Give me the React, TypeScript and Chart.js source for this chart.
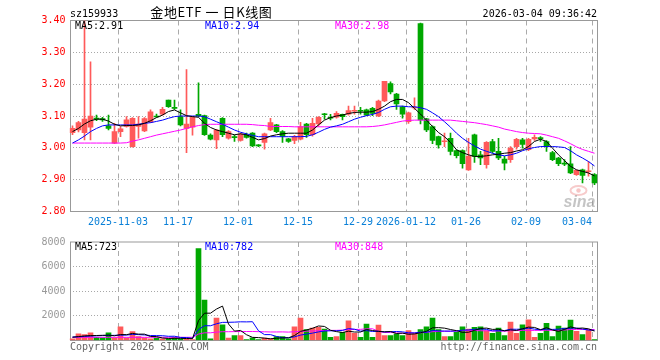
import React, { useEffect, useRef } from "react";
import { Chart, registerables } from "chart.js";

Chart.register(...registerables);

const stockCode = "sz159933";
const chartTitle = "金地ETF 一 日K线图";
const timestamp = "2026-03-04 09:36:42";
const priceLegend = ["MA5:2.91", "MA10:2.94", "MA30:2.98"];
const volumeLegend = ["MA5:723", "MA10:782", "MA30:848"];
const footerLeft = "Copyright 2026 SINA.COM";
const footerRight = "http://finance.sina.com.cn";

const dates = [
  "2025-10-22","2025-10-23","2025-10-24","2025-10-27","2025-10-28","2025-10-29","2025-10-30","2025-10-31",
  "2025-11-03","2025-11-04","2025-11-05","2025-11-06","2025-11-07",
  "2025-11-10","2025-11-11","2025-11-12","2025-11-13","2025-11-14",
  "2025-11-17","2025-11-18","2025-11-19","2025-11-20","2025-11-21",
  "2025-11-24","2025-11-25","2025-11-26","2025-11-27","2025-11-28",
  "2025-12-01","2025-12-02","2025-12-03","2025-12-04","2025-12-05",
  "2025-12-08","2025-12-09","2025-12-10","2025-12-11","2025-12-12",
  "2025-12-15","2025-12-16","2025-12-17","2025-12-18","2025-12-19",
  "2025-12-22","2025-12-23","2025-12-24","2025-12-25","2025-12-26",
  "2025-12-29","2025-12-30","2025-12-31",
  "2026-01-05","2026-01-06","2026-01-07","2026-01-08","2026-01-09",
  "2026-01-12","2026-01-13","2026-01-14","2026-01-15","2026-01-16",
  "2026-01-19","2026-01-20","2026-01-21","2026-01-22","2026-01-23",
  "2026-01-26","2026-01-27","2026-01-28","2026-01-29","2026-01-30",
  "2026-02-02","2026-02-03","2026-02-04","2026-02-05","2026-02-06",
  "2026-02-09","2026-02-10","2026-02-11","2026-02-12","2026-02-13",
  "2026-02-24","2026-02-25","2026-02-26","2026-02-27",
  "2026-03-02","2026-03-03","2026-03-04",
];

const tickDates = ["2025-11-03","2025-11-17","2025-12-01","2025-12-15","2025-12-29","2026-01-12","2026-01-26","2026-02-09","2026-03-04"];
const tickLabels = ["2025-11-03","11-17","12-01","12-15","12-29","2026-01-12","01-26","02-09","03-04"];

const open = [
  3.048,3.056,3.048,3.065,3.093,3.092,3.069,3.015,3.051,3.067,
  3.004,3.067,3.053,3.081,3.100,3.106,3.150,3.127,3.098,3.061,
  3.065,3.105,3.101,3.040,3.025,3.093,3.030,3.035,3.023,3.040,
  3.046,3.009,3.017,3.056,3.072,3.051,3.028,3.023,3.027,3.075,
  3.041,3.075,3.106,3.094,3.096,3.105,3.106,3.115,3.117,3.119,
  3.124,3.100,3.147,3.202,3.169,3.129,3.082,3.125,3.390,3.091,
  3.067,3.035,3.019,3.030,2.991,2.991,2.931,3.041,2.978,2.947,
  3.020,2.989,2.965,2.963,3.004,3.025,2.994,3.028,3.031,3.020,
  2.985,2.968,2.950,2.950,2.916,2.931,2.925,2.916,
];
const high = [
  3.069,3.083,3.400,3.270,3.103,3.096,3.103,3.077,3.067,3.098,
  3.095,3.098,3.095,3.119,3.106,3.127,3.150,3.150,3.119,3.246,
  3.098,3.204,3.103,3.044,3.058,3.095,3.054,3.040,3.046,3.046,
  3.048,3.010,3.046,3.093,3.074,3.054,3.030,3.039,3.080,3.077,
  3.093,3.098,3.108,3.105,3.114,3.106,3.131,3.131,3.127,3.122,
  3.127,3.150,3.209,3.207,3.171,3.131,3.112,3.157,3.392,3.093,
  3.069,3.037,3.046,3.046,2.994,2.994,3.030,3.043,2.989,3.020,
  3.027,3.030,2.973,3.004,3.030,3.030,3.030,3.041,3.035,3.023,
  2.989,2.970,2.963,3.004,2.931,2.933,2.957,2.919,
];
const low = [
  3.041,3.050,3.025,3.025,3.085,3.083,3.056,3.013,3.035,3.065,
  3.002,3.030,3.051,3.079,3.096,3.103,3.127,3.121,3.069,2.985,
  3.040,3.098,3.039,3.025,2.997,3.035,3.027,3.020,3.021,3.030,
  3.004,3.004,2.996,3.054,3.048,3.017,3.017,3.013,3.025,3.033,
  3.037,3.067,3.090,3.088,3.093,3.088,3.103,3.106,3.106,3.101,
  3.101,3.098,3.145,3.169,3.121,3.093,3.077,3.121,3.075,3.051,
  3.013,2.999,3.004,2.978,2.968,2.936,2.929,2.954,2.947,2.936,
  2.983,2.963,2.931,2.954,2.996,2.999,2.991,3.023,3.020,2.989,
  2.960,2.944,2.944,2.919,2.913,2.890,2.911,2.884,
];
const close = [
  3.061,3.079,3.090,3.100,3.090,3.088,3.061,3.051,3.060,3.088,
  3.093,3.075,3.092,3.113,3.097,3.121,3.129,3.124,3.072,3.075,
  3.096,3.101,3.041,3.027,3.056,3.041,3.051,3.032,3.043,3.033,
  3.006,3.006,3.044,3.079,3.051,3.037,3.020,3.035,3.067,3.041,
  3.077,3.096,3.104,3.093,3.108,3.098,3.117,3.117,3.115,3.103,
  3.108,3.147,3.209,3.176,3.138,3.106,3.110,3.127,3.088,3.056,
  3.023,3.009,3.021,2.989,2.975,2.950,2.973,2.973,2.968,3.017,
  2.989,2.968,2.952,2.999,3.027,3.011,3.027,3.033,3.029,3.004,
  2.963,2.950,2.949,2.921,2.929,2.913,2.927,2.890,
];

const ma5 = [
  3.051,3.061,3.075,3.085,3.090,3.090,3.084,3.074,3.069,3.070,
  3.070,3.072,3.077,3.085,3.095,3.103,3.114,3.119,3.110,3.101,
  3.098,3.096,3.077,3.064,3.056,3.051,3.046,3.041,3.044,3.041,
  3.033,3.025,3.029,3.037,3.041,3.044,3.046,3.046,3.046,3.046,
  3.056,3.072,3.087,3.095,3.100,3.103,3.108,3.111,3.112,3.112,
  3.114,3.121,3.131,3.145,3.152,3.152,3.142,3.124,3.106,3.087,
  3.067,3.048,3.035,3.017,2.994,2.985,2.978,2.973,2.973,2.975,
  2.978,2.980,2.983,2.985,2.990,2.994,3.004,3.020,3.027,3.020,
  2.999,2.978,2.960,2.942,2.931,2.926,2.921,2.912,
];
const ma10 = [
  3.015,3.025,3.037,3.051,3.061,3.069,3.072,3.072,3.072,3.072,
  3.072,3.074,3.077,3.079,3.083,3.087,3.093,3.098,3.100,3.100,
  3.100,3.100,3.098,3.090,3.082,3.074,3.065,3.056,3.049,3.044,
  3.039,3.035,3.035,3.035,3.035,3.035,3.035,3.035,3.035,3.036,
  3.041,3.049,3.058,3.065,3.069,3.074,3.082,3.090,3.096,3.101,
  3.105,3.111,3.121,3.129,3.131,3.131,3.129,3.129,3.126,3.121,
  3.110,3.098,3.082,3.065,3.046,3.030,3.017,3.006,2.996,2.989,
  2.983,2.978,2.975,2.978,2.983,2.991,2.997,3.001,3.004,3.004,
  3.004,3.003,3.001,2.991,2.978,2.968,2.957,2.943,
];
const ma30 = [
  3.015,3.015,3.015,3.015,3.015,3.015,3.015,3.015,3.015,3.016,
  3.021,3.025,3.030,3.035,3.040,3.044,3.048,3.052,3.056,3.061,
  3.066,3.070,3.073,3.074,3.074,3.074,3.074,3.074,3.074,3.074,
  3.073,3.071,3.070,3.067,3.067,3.067,3.067,3.066,3.066,3.066,
  3.066,3.066,3.066,3.066,3.066,3.066,3.066,3.066,3.066,3.066,
  3.067,3.069,3.072,3.076,3.080,3.084,3.086,3.087,3.087,3.087,
  3.087,3.087,3.087,3.087,3.085,3.083,3.081,3.079,3.076,3.073,
  3.069,3.065,3.059,3.055,3.051,3.048,3.046,3.045,3.044,3.040,
  3.035,3.030,3.022,3.013,3.003,2.995,2.989,2.983,
];

const volume = [
  133,533,480,613,267,213,613,213,1120,213,
  720,320,213,133,213,133,133,267,133,133,
  80,7467,3280,133,1813,1280,187,400,400,80,
  213,80,187,133,320,320,133,1120,1813,880,
  1013,1067,933,267,320,667,1600,587,267,1333,
  267,1253,400,400,533,400,800,533,880,1120,
  1813,880,320,320,667,1120,933,1067,1120,800,
  587,1013,400,1493,587,1280,1680,267,587,1387,
  320,1173,1013,1653,747,480,853,80,
];
const vma5 = [
  267,320,370,400,405,421,437,384,485,474,
  576,517,517,320,320,202,165,176,176,160,
  149,1616,2219,2219,2555,2795,1339,763,816,469,
  256,235,192,139,187,208,219,405,741,853,
  992,1179,1141,832,720,651,757,688,688,891,
  811,741,704,731,571,597,507,533,629,747,
  1029,1045,1003,891,800,661,672,821,981,1008,
  901,917,784,859,816,955,1088,1061,880,1040,
  848,747,896,1109,981,1013,949,763,
];
const vma10 = [
  280,300,330,360,380,400,410,420,430,440,
  499,477,451,403,397,389,341,347,248,240,
  176,891,1198,1198,1358,1472,1478,1491,1518,1512,
  1526,787,478,478,328,232,227,299,440,520,
  600,699,773,787,787,822,968,915,760,806,
  731,749,696,710,731,704,624,619,680,659,
  813,776,768,760,774,845,859,912,936,904,
  781,795,803,920,912,928,1003,923,870,928,
  902,918,979,995,1011,931,848,830,
];
const vma30 = [
  260,260,260,260,260,260,260,260,260,260,
  260,260,260,260,260,260,260,260,260,260,
  260,520,625,625,680,715,715,722,730,731,
  733,718,708,692,694,698,682,712,735,757,
  767,792,816,820,824,842,891,901,906,946,
  952,745,649,658,615,586,606,611,627,661,
  715,741,746,752,764,790,817,815,792,789,
  775,773,756,796,805,826,828,818,828,830,
  832,829,850,892,899,901,903,888,
];

const RED = "#ff5a5a";
const GREEN = "#00a800";
const MONO = "'DejaVu Sans Mono', 'Liberation Mono', monospace";
const CJK = "'Noto Sans CJK SC', 'Noto Sans', sans-serif";

export default function App() {
  const priceRef = useRef<HTMLCanvasElement | null>(null);
  const volRef = useRef<HTMLCanvasElement | null>(null);

  useEffect(() => {
    if (!priceRef.current || !volRef.current) return;
    const colors = close.map((c, i) => (c >= open[i] ? RED : GREEN));
    const tickIdx = tickDates.map((d) => dates.indexOf(d));

    const gridAndFrame = (chart: any) => {
      const { ctx, chartArea: a } = chart;
      const x = chart.scales.x;
      ctx.save();
      ctx.lineWidth = 1;
      ctx.strokeStyle = "#aaaaaa";
      ctx.setLineDash([5, 4]);
      tickIdx.forEach((i) => {
        const px = Math.round(x.getPixelForValue(i) - 2.5) + 0.5;
        ctx.beginPath();
        ctx.moveTo(px, a.top);
        ctx.lineTo(px, a.bottom);
        ctx.stroke();
      });
      ctx.setLineDash([]);
      ctx.strokeStyle = "#999999";
      const L = a.left + 1;
      ctx.strokeRect(L, a.top, a.right - L, a.bottom - a.top);
      ctx.restore();
    };

    const pricePlugin = {
      id: "priceDeco",
      beforeDatasetsDraw(chart: any) {
        gridAndFrame(chart);
        const { ctx, chartArea: a } = chart;
        ctx.save();
        ctx.strokeStyle = "rgba(240,160,160,0.55)";
        ctx.lineWidth = 2;
        ctx.beginPath();
        ctx.ellipse(a.right - 19, a.bottom - 21, 8, 4.5, 0, 0, Math.PI * 2);
        ctx.stroke();
        ctx.fillStyle = "rgba(240,150,150,0.55)";
        ctx.beginPath();
        ctx.arc(a.right - 19, a.bottom - 21, 2.2, 0, Math.PI * 2);
        ctx.fill();
        ctx.font = "italic bold 16px 'Liberation Sans', sans-serif";
        ctx.fillStyle = "rgba(150,150,150,0.55)";
        ctx.textAlign = "right";
        ctx.textBaseline = "alphabetic";
        ctx.fillText("sina", a.right - 2, a.bottom - 5);
        ctx.restore();
      },
      afterDraw(chart: any) {
        const { ctx, chartArea: a } = chart;
        const x = chart.scales.x;
        const anyCtx = ctx as any;
        ctx.save();
        ctx.textBaseline = "alphabetic";
        ctx.font = `10px ${MONO}`;
        ctx.fillStyle = "#000000";
        ctx.textAlign = "left";
        ctx.fillText(stockCode, 70, 17);
        ctx.textAlign = "right";
        ctx.fillText(timestamp, 597, 17);
        // title: one string, spaced out to the reference width
        ctx.font = `13px ${CJK}`;
        ctx.textAlign = "left";
        const w0 = ctx.measureText(chartTitle).width;
        const n = Array.from(chartTitle).length;
        const target = 118;
        if ("letterSpacing" in anyCtx && "wordSpacing" in anyCtx) {
          const lsp = 0.6;
          const ws = Math.max(0, (target - w0 - lsp * (n - 1)) / 2);
          anyCtx.letterSpacing = `${lsp}px`;
          anyCtx.wordSpacing = `${ws}px`;
          ctx.fillText(chartTitle, 209.3 - target / 2, 17);
          anyCtx.letterSpacing = "0px";
          anyCtx.wordSpacing = "0px";
        } else if ("letterSpacing" in anyCtx) {
          anyCtx.letterSpacing = `${(target - w0) / (n - 1)}px`;
          ctx.fillText(chartTitle, 209.3 - target / 2, 17);
          anyCtx.letterSpacing = "0px";
        } else {
          ctx.fillText(chartTitle, 209.3 - w0 / 2, 17);
        }
        // legends
        ctx.font = `10px ${MONO}`;
        ctx.textAlign = "left";
        ctx.fillStyle = "#000000";
        ctx.fillText(priceLegend[0], 75, 29);
        ctx.fillStyle = "#0000ff";
        ctx.fillText(priceLegend[1], 205, 29);
        ctx.fillStyle = "#ff00ff";
        ctx.fillText(priceLegend[2], 335, 29);
        // x labels
        ctx.fillStyle = "#0a80d8";
        tickIdx.forEach((i, k) => {
          const px = Math.round(x.getPixelForValue(i) - 2.5);
          const w = ctx.measureText(tickLabels[k]).width;
          if (px + w / 2 > a.right) {
            ctx.textAlign = "right";
            ctx.fillText(tickLabels[k], px, 225);
          } else {
            ctx.textAlign = "center";
            ctx.fillText(tickLabels[k], px, 225);
          }
        });
        ctx.restore();
      },
    };

    const volPlugin = {
      id: "volDeco",
      beforeDatasetsDraw(chart: any) {
        gridAndFrame(chart);
      },
      afterDraw(chart: any) {
        const { ctx } = chart;
        ctx.save();
        ctx.textBaseline = "alphabetic";
        ctx.font = `10px ${MONO}`;
        ctx.textAlign = "left";
        ctx.fillStyle = "#000000";
        ctx.fillText(volumeLegend[0], 75, 18);
        ctx.fillStyle = "#0000ff";
        ctx.fillText(volumeLegend[1], 205, 18);
        ctx.fillStyle = "#ff00ff";
        ctx.fillText(volumeLegend[2], 335, 18);
        ctx.fillStyle = "#666666";
        ctx.fillText(footerLeft, 70, 118);
        ctx.textAlign = "right";
        ctx.fillText(footerRight, 597, 118);
        ctx.restore();
      },
    };

    const lineDs = (label: string, data: number[], color: string) => ({
      type: "line" as const,
      label,
      data,
      borderColor: color,
      borderWidth: 1,
      pointRadius: 0,
      tension: 0,
      fill: false,
      order: 0,
    });

    const baseOptions = (padding: any, yOpts: any) => ({
      responsive: false,
      animation: false as const,
      devicePixelRatio: 1,
      events: [] as any[],
      layout: { padding },
      plugins: {
        legend: { display: false },
        tooltip: { enabled: false },
        title: { display: false },
      },
      scales: {
        x: { type: "category" as const, offset: true, display: false, grid: { offset: true } },
        y: yOpts,
      },
    });

    const priceChart = new Chart(priceRef.current, {
      type: "bar",
      data: {
        labels: dates,
        datasets: [
          lineDs("MA5", ma5, "#000000"),
          lineDs("MA10", ma10, "#0000ff"),
          lineDs("MA30", ma30, "#ff00ff"),
          {
            type: "bar",
            label: "body",
            data: open.map((o, i) => [o, close[i]]),
            backgroundColor: colors,
            borderWidth: 0,
            barThickness: 5,
            minBarLength: 1,
            grouped: false,
            order: 1,
          } as any,
          {
            type: "bar",
            label: "wick",
            data: low.map((l, i) => [l, high[i]]),
            backgroundColor: colors,
            borderWidth: 0,
            barThickness: 1,
            grouped: false,
            order: 2,
          } as any,
        ],
      },
      options: baseOptions(
        { left: 0, right: 62.5, top: 20.5, bottom: 20.5 },
        {
          min: 2.8,
          max: 3.4,
          afterFit: (s: any) => {
            s.width = 69.5;
          },
          ticks: {
            stepSize: 0.1,
            autoSkip: false,
            color: "#ff0000",
            padding: 4,
            font: { family: MONO, size: 10 },
            callback: (v: any) => Number(v).toFixed(2),
          },
          grid: {
            drawTicks: false,
            lineWidth: 1,
            color: (c: any) => (c.index === 0 || c.index === 6 ? "rgba(0,0,0,0)" : "#a8a8a8"),
          },
          border: { display: false, dash: [1, 2] },
        }
      ) as any,
      plugins: [pricePlugin],
    });

    const volChart = new Chart(volRef.current, {
      type: "bar",
      data: {
        labels: dates,
        datasets: [
          lineDs("MA5", vma5, "#000000"),
          lineDs("MA10", vma10, "#0000ff"),
          lineDs("MA30", vma30, "#ff00ff"),
          {
            type: "bar",
            label: "volume",
            data: volume,
            backgroundColor: colors,
            borderWidth: 0,
            barThickness: 5,
            grouped: false,
            order: 1,
          } as any,
        ],
      },
      options: baseOptions(
        { left: 0, right: 62.5, top: 8.5, bottom: 19.5 },
        {
          min: 0,
          max: 8000,
          afterFit: (s: any) => {
            s.width = 69.5;
          },
          ticks: {
            stepSize: 2000,
            autoSkip: false,
            color: "#999999",
            padding: 4,
            font: { family: MONO, size: 10 },
            callback: (v: any) => (Number(v) === 0 ? "" : String(v)),
          },
          grid: {
            drawTicks: false,
            lineWidth: 1,
            color: (c: any) => (c.index === 0 || c.index === 4 ? "rgba(0,0,0,0)" : "#a8a8a8"),
          },
          border: { display: false, dash: [1, 2] },
        }
      ) as any,
      plugins: [volPlugin],
    });

    return () => {
      priceChart.destroy();
      volChart.destroy();
    };
  }, []);

  return (
    <div
      style={{
        position: "fixed",
        left: 0,
        top: 0,
        width: 660,
        height: 360,
        background: "#ffffff",
        overflow: "hidden",
      }}
    >
      <canvas
        ref={priceRef}
        width={660}
        height={232}
        style={{ position: "absolute", left: 0, top: 0, display: "block", width: 660, height: 232 }}
      />
      <canvas
        ref={volRef}
        width={660}
        height={128}
        style={{ position: "absolute", left: 0, top: 232, display: "block", width: 660, height: 128 }}
      />
    </div>
  );
}
